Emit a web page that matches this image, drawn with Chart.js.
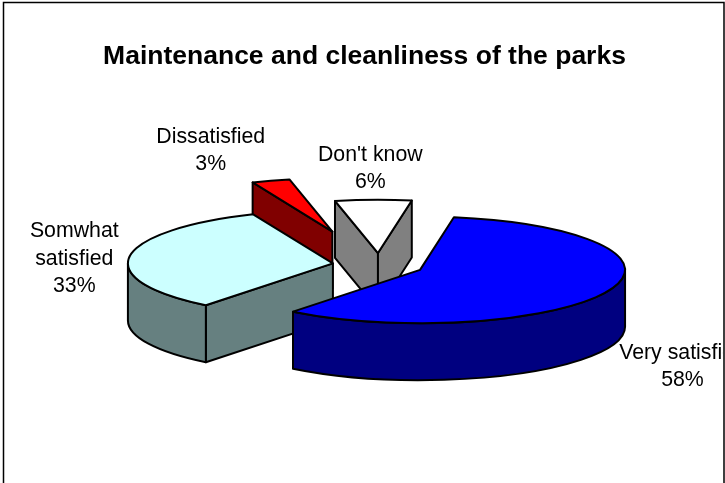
<!DOCTYPE html>
<html>
<head>
<meta charset="utf-8">
<title>Maintenance and cleanliness of the parks</title>
<script src="https://cdn.jsdelivr.net/npm/chart.js@4"></script>
<style>
html, body { margin: 0; padding: 0; background: #fff; }
canvas { display: block; }
</style>
</head>
<body>
<canvas id="chart1" width="725" height="483"></canvas>
<script>
var categories = ["Very satisfied", "Somwhat satisfied", "Dissatisfied", "Don't know"];
var values = [58, 33, 3, 6];
var labelLines = [["Very satisfied"], ["Somwhat", "satisfied"], ["Dissatisfied"], ["Don't know"]];
var topColors = ["#0000ff", "#ccffff", "#ff0000", "#ffffff"];
var sideColors = ["#000080", "#668080", "#800000", "#808080"];
var explode = [46, 46, 135, 46];
// small extra sideways move of a slice, the red one sits further left
var sliceNudge = [0, 0.5, -5, 1];
// label position relative to the outer rim of each slice
var labelShift = [[75, 75], [-55, 2.5], [-65, -30], [-2, -31]];

var tilt = 0.26;       // how flat the pie is seen
var depth = 57;        // height of the pie wall
var shiftX = 13.5;     // pie sits right of the title centre
var labelFont = "21.3px 'Liberation Sans', Arial, sans-serif";
var labelLine = 27.5;

function drawFace(ctx, s, px, py) {
    ctx.beginPath();
    ctx.moveTo(s.cx, s.cy);
    ctx.lineTo(px, py);
    ctx.lineTo(px, py + depth);
    ctx.lineTo(s.cx, s.cy + depth);
    ctx.closePath();
    ctx.fill();
    ctx.stroke();
}

function drawSlice(ctx, s) {
    var ry = s.r * tilt;
    var x1 = s.cx + s.r * Math.cos(s.a);
    var y1 = s.cy + ry * Math.sin(s.a);
    var x2 = s.cx + s.r * Math.cos(s.b);
    var y2 = s.cy + ry * Math.sin(s.b);

    ctx.fillStyle = s.side;
    // the flat cut faces, only the ones turned to the viewer
    if (Math.cos(s.a) < 0) drawFace(ctx, s, x1, y1);
    if (Math.cos(s.b) > 0) drawFace(ctx, s, x2, y2);

    // the outer wall, only where it faces the viewer
    for (var k = -1; k < 2; k++) {
        var from = Math.max(s.a, k * 2 * Math.PI);
        var to = Math.min(s.b, k * 2 * Math.PI + Math.PI);
        if (to <= from) continue;
        ctx.beginPath();
        ctx.ellipse(s.cx, s.cy, s.r, ry, 0, from, to, false);
        ctx.ellipse(s.cx, s.cy + depth, s.r, ry, 0, to, from, true);
        ctx.closePath();
        ctx.fill();
        ctx.stroke();
    }

    // top of the slice
    ctx.fillStyle = s.top;
    ctx.beginPath();
    ctx.moveTo(s.cx, s.cy);
    ctx.ellipse(s.cx, s.cy, s.r, ry, 0, s.a, s.b, false);
    ctx.closePath();
    ctx.fill();
    ctx.stroke();
}

var pie3d = {
    id: "pie3d",
    beforeDatasetsDraw: function(chart) {
        var ctx = chart.ctx;
        var arcs = chart.getDatasetMeta(0).data;
        var slices = arcs.map(function(arc, i) {
            var mid = (arc.startAngle + arc.endAngle) / 2;
            var off = arc.options.offset;
            return {
                i: i,
                a: arc.startAngle,
                b: arc.endAngle,
                mid: mid,
                off: off,
                r: arc.outerRadius,
                baseX: arc.x + shiftX,
                baseY: arc.y,
                cx: arc.x + shiftX + off * Math.cos(mid) + sliceNudge[i],
                cy: arc.y + off * tilt * Math.sin(mid),
                top: topColors[i],
                side: sideColors[i]
            };
        });

        ctx.save();
        ctx.strokeStyle = "#000";
        ctx.lineWidth = 2;
        ctx.lineJoin = "round";
        // back slices first
        slices.slice().sort(function(p, q) { return p.cy - q.cy; }).forEach(function(s) {
            drawSlice(ctx, s);
        });
        ctx.restore();

        // data labels, clipped by the chart frame like the original
        ctx.save();
        ctx.beginPath();
        ctx.rect(0, 0, 723, 483);
        ctx.clip();
        ctx.font = labelFont;
        ctx.fillStyle = "#000";
        ctx.textAlign = "center";
        ctx.textBaseline = "middle";
        slices.forEach(function(s) {
            var dist = s.off + s.r;
            var x = s.baseX + dist * Math.cos(s.mid) + labelShift[s.i][0];
            var y = s.baseY + dist * tilt * Math.sin(s.mid) + labelShift[s.i][1];
            var lines = labelLines[s.i].concat([values[s.i] + "%"]);
            lines.forEach(function(t, n) {
                ctx.fillText(t, x, y + (n - (lines.length - 1) / 2) * labelLine);
            });
        });
        ctx.restore();

        // chart frame: top, left and right only
        ctx.save();
        ctx.strokeStyle = "#000";
        ctx.lineWidth = 1.5;
        ctx.beginPath();
        ctx.moveTo(3.5, 483);
        ctx.lineTo(3.5, 2.5);
        ctx.lineTo(724, 2.5);
        ctx.lineTo(724, 483);
        ctx.stroke();
        ctx.restore();
        return false;
    }
};

var ctx = document.getElementById("chart1");
var myChart = new Chart(ctx, {
    type: "pie",
    data: {
        labels: categories,
        datasets: [{
            data: values,
            backgroundColor: topColors,
            offset: explode
        }]
    },
    options: {
        responsive: false,
        animation: false,
        events: [],
        rotation: 9.5,
        radius: 205,
        layout: { padding: { left: 4, right: 0, top: 0, bottom: 25.8 } },
        plugins: {
            legend: { display: false },
            tooltip: { enabled: false },
            title: {
                display: true,
                text: "Maintenance and cleanliness of the parks",
                color: "#000",
                font: { family: "'Liberation Sans', Arial, sans-serif", size: 26.5, weight: "bold" },
                padding: { top: 41, bottom: 0 }
            }
        }
    },
    plugins: [pie3d]
});
</script>
</body>
</html>
